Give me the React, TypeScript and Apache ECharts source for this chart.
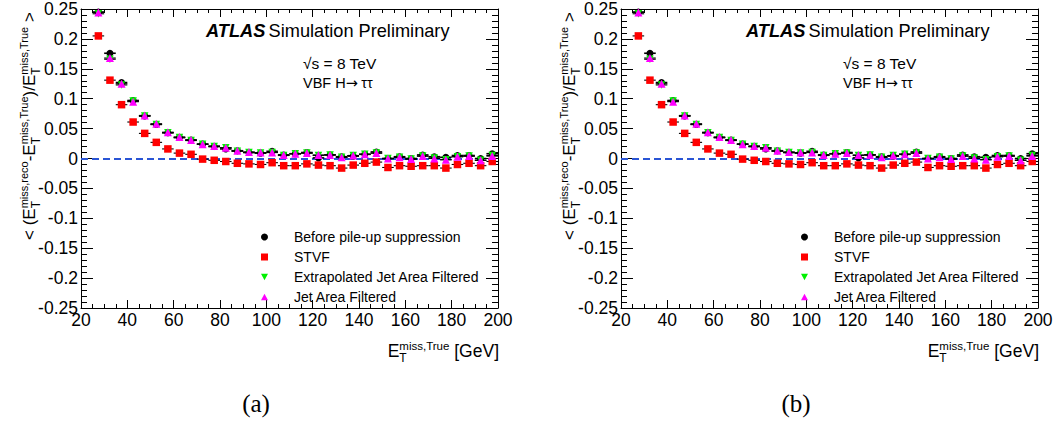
import React, { useEffect, useRef } from "react";
import * as echarts from "echarts";

// ---------- data ----------
const binCenters = [
  27.5, 32.5, 37.5, 42.5, 47.5, 52.5, 57.5, 62.5, 67.5, 72.5, 77.5, 82.5, 87.5, 92.5, 97.5,
  102.5, 107.5, 112.5, 117.5, 122.5, 127.5, 132.5, 137.5, 142.5, 147.5, 152.5, 157.5, 162.5,
  167.5, 172.5, 177.5, 182.5, 187.5, 192.5, 197.5,
];
const binHalfWidth = 2.5;

const beforeSuppression = [
  0.245, 0.176, 0.127, 0.097, 0.071, 0.057, 0.043, 0.035, 0.031, 0.024, 0.02, 0.016, 0.013, 0.01,
  0.009, 0.012, 0.006, 0.008, 0.01, 0.001, 0.006, 0.003, 0.004, 0.007, 0.011, 0.0, 0.003, 0.0,
  0.006, 0.003, 0.002, 0.005, 0.005, 0.0, 0.008,
];
const stvf = [
  0.205, 0.131, 0.09, 0.061, 0.042, 0.027, 0.016, 0.009, 0.007, -0.001, -0.003, -0.005, -0.008,
  -0.009, -0.01, -0.007, -0.012, -0.012, -0.009, -0.011, -0.012, -0.016, -0.011, -0.008, -0.006,
  -0.015, -0.012, -0.013, -0.012, -0.012, -0.016, -0.01, -0.008, -0.012, -0.005,
];
const extrapolatedJAF = [
  0.242, 0.166, 0.123, 0.096, 0.071, 0.057, 0.043, 0.035, 0.03, 0.024, 0.02, 0.018, 0.012, 0.01,
  0.009, 0.01, 0.005, 0.008, 0.009, 0.005, 0.006, 0.002, 0.005, 0.007, 0.009, 0.0, 0.002, -0.001,
  0.004, 0.001, -0.002, 0.003, 0.004, -0.003, 0.005,
];
const jetAreaFiltered = [
  0.244, 0.168, 0.125, 0.095, 0.072, 0.058, 0.044, 0.036, 0.031, 0.024, 0.021, 0.018, 0.013, 0.011,
  0.01, 0.01, 0.006, 0.008, 0.009, 0.006, 0.006, 0.002, 0.005, 0.007, 0.009, 0.0, 0.002, -0.001,
  0.004, 0.0, -0.002, 0.003, 0.004, -0.003, 0.004,
];

const seriesNames = [
  "Before pile-up suppression",
  "STVF",
  "Extrapolated Jet Area Filtered",
  "Jet Area Filtered",
];
const seriesValues = [beforeSuppression, stvf, extrapolatedJAF, jetAreaFiltered];
const panelCaptions = ["(a)", "(b)"];

const xMin = 20, xMax = 200, xInterval = 20;
const yMin = -0.25, yMax = 0.25, yInterval = 0.05;

// ---------- styling ----------
const FONT = '"Liberation Sans", Arial, Helvetica, sans-serif';
const colors = ["#000000", "#ff0000", "#00f000", "#ff00ff"];
const symbols = ["circle", "rect", "triangle", "triangle"];
const symbolRot = [0, 0, 180, 0];
const symbolSizes = [7, 7.5, 7.5, 8];
const legendIcons = ["circle", "rect", "path://M0,0L10,0L5,9Z", "path://M5,0L10,9L0,9Z"];

const PANEL_DX = 540;
const GRID = { left: 81, top: 9, width: 417, height: 299 };

let measureCtx: CanvasRenderingContext2D | null = null;
function measure(t: string, size: number): number {
  if (!measureCtx) measureCtx = document.createElement("canvas").getContext("2d");
  if (!measureCtx) return t.length * size * 0.55;
  measureCtx.font = `${size}px "Liberation Sans"`;
  return measureCtx.measureText(t).width;
}

function textEl(t: string, x: number, baseline: number, size: number) {
  return {
    type: "text",
    x,
    y: baseline - 0.35 * size,
    silent: true,
    style: {
      text: t,
      x: 0,
      y: 0,
      fill: "#000",
      fontSize: size,
      fontFamily: FONT,
      align: "left",
      verticalAlign: "middle",
    },
  };
}

type Seg = string | { sup: string; sub: string };
function physLabel(segs: Seg[], main: number, supS: number, subS: number, supDy: number, subDy: number) {
  const children: any[] = [];
  let x = 0;
  for (const s of segs) {
    if (typeof s === "string") {
      children.push(textEl(s, x, 0, main));
      x += measure(s, main);
    } else {
      children.push(textEl(s.sup, x, supDy, supS));
      children.push(textEl(s.sub, x, subDy, subS));
      x += Math.max(measure(s.sup, supS), measure(s.sub, subS));
    }
  }
  return { children, width: x };
}

function buildOption() {
  const xAxis: any[] = [];
  const yAxis: any[] = [];
  const grid: any[] = [];
  const series: any[] = [];
  const legend: any[] = [];
  const graphic: any[] = [];

  const tickLine = { color: "#000", width: 1 };
  for (let p = 0; p < 2; p++) {
    const dx = p * PANEL_DX;
    grid.push({ left: GRID.left + dx, top: GRID.top, width: GRID.width, height: GRID.height, show: false });

    const xCommon = {
      type: "value",
      gridIndex: p,
      min: xMin,
      max: xMax,
      interval: xInterval,
      axisLine: { show: true, onZero: false, lineStyle: tickLine },
      axisTick: { show: true, inside: true, length: 8, lineStyle: tickLine },
      minorTick: { show: true, splitNumber: 4, length: 4, lineStyle: tickLine },
      splitLine: { show: false },
      minorSplitLine: { show: false },
    };
    xAxis.push({
      ...xCommon,
      position: "bottom",
      axisLabel: { show: true, color: "#000", fontSize: 17.5, fontFamily: FONT, margin: 3, showMinLabel: true, showMaxLabel: true },
    });
    xAxis.push({ ...xCommon, position: "top", axisLabel: { show: false } });

    const yCommon = {
      type: "value",
      gridIndex: p,
      min: yMin,
      max: yMax,
      interval: yInterval,
      axisLine: { show: true, onZero: false, lineStyle: tickLine },
      axisTick: { show: true, inside: true, length: 12, lineStyle: tickLine },
      minorTick: { show: true, splitNumber: 5, length: 6, lineStyle: tickLine },
      splitLine: { show: false },
      minorSplitLine: { show: false },
    };
    yAxis.push({
      ...yCommon,
      position: "left",
      axisLabel: {
        show: true,
        color: "#000",
        fontSize: 17.5,
        fontFamily: FONT,
        margin: 3,
        formatter: (v: number) => String(Math.round(v * 100) / 100),
      },
    });
    yAxis.push({ ...yCommon, position: "right", axisLabel: { show: false } });

    seriesValues.forEach((vals, k) => {
      const data = binCenters.map((x, j) => [x, vals[j]]);
      series.push({
        type: "custom",
        xAxisIndex: 2 * p,
        yAxisIndex: 2 * p,
        silent: true,
        z: 2,
        data,
        renderItem: (_params: any, api: any) => {
          const x = api.value(0);
          const y = api.value(1);
          const a = api.coord([x - binHalfWidth, y]);
          const b = api.coord([x + binHalfWidth, y]);
          return {
            type: "line",
            shape: { x1: a[0], y1: a[1], x2: b[0], y2: b[1] },
            style: { stroke: "#000", lineWidth: k === 0 ? 1.6 : 1.1 },
          };
        },
      });
      const s: any = {
        type: "scatter",
        name: seriesNames[k],
        xAxisIndex: 2 * p,
        yAxisIndex: 2 * p,
        data,
        symbol: symbols[k],
        symbolSize: symbolSizes[k],
        symbolRotate: symbolRot[k],
        itemStyle: { color: colors[k], opacity: 1 },
        silent: true,
        z: 3,
      };
      if (k === 0) {
        s.markLine = {
          silent: true,
          symbol: ["none", "none"],
          label: { show: false },
          lineStyle: { color: "#2a55d5", type: [7, 4], width: 2 },
          data: [{ yAxis: 0 }],
          z: 1,
        };
      }
      series.push(s);
    });

    legend.push({
      orient: "vertical",
      left: 261 + dx,
      top: 230,
      padding: 0,
      itemWidth: 7,
      itemHeight: 7,
      itemGap: 6,
      selectedMode: false,
      data: seriesNames.map((n, k) => ({ name: n, icon: legendIcons[k], itemStyle: { color: colors[k] } })),
      textStyle: { color: "#000", fontSize: 14, fontFamily: FONT, padding: [0, 0, 0, 21], lineHeight: 14 },
    });

    // ATLAS label
    graphic.push({
      type: "text",
      x: 206 + dx,
      y: 30.5,
      silent: true,
      style: {
        text: "{a|ATLAS} {b|Simulation Preliminary}",
        verticalAlign: "middle",
        align: "left",
        rich: {
          a: { fontSize: 18.2, fontFamily: FONT, fontWeight: "bold", fontStyle: "italic", fill: "#000" },
          b: { fontSize: 18.2, fontFamily: FONT, fill: "#000" },
        },
      },
    });
    graphic.push({
      type: "text",
      x: 303 + dx,
      y: 63,
      silent: true,
      style: { text: "\u221As = 8 TeV", fontSize: 15.5, fontFamily: FONT, fill: "#000", verticalAlign: "middle" },
    });
    graphic.push({
      type: "text",
      x: 303 + dx,
      y: 83,
      silent: true,
      style: {
        text: "{a|VBF H}{b|\u2192} {a|\u03C4\u03C4}",
        verticalAlign: "middle",
        rich: {
          a: { fontSize: 14.5, fontFamily: FONT, fill: "#000" },
          b: { fontSize: 14.5, fontFamily: '"DejaVu Sans", sans-serif', fill: "#000" },
        },
      },
    });

    // x axis title
    const xt = physLabel(["E", { sup: "miss,True", sub: "T" }, " [GeV]"], 17.5, 11.5, 12, -6.5, 5);
    graphic.push({ type: "group", x: 499 + dx - xt.width, y: 357, children: xt.children });

    // y axis title (rotated)
    const yt = physLabel(
      [
        "< (E",
        { sup: "miss,reco", sub: "T" },
        "-E",
        { sup: "miss,True", sub: "T" },
        ")/E",
        { sup: "miss,True", sub: "T" },
        " >",
      ],
      17,
      11,
      12,
      -7,
      5
    );
    graphic.push({
      type: "group",
      x: 35 + dx,
      y: 240,
      rotation: Math.PI / 2,
      children: yt.children,
    });

    graphic.push({
      type: "text",
      x: 256 + dx,
      y: 403,
      silent: true,
      style: {
        text: panelCaptions[p],
        fontSize: 25,
        fontFamily: '"Liberation Serif", "Times New Roman", serif',
        fill: "#000",
        align: "center",
        verticalAlign: "middle",
      },
    });
  }

  return {
    animation: false,
    backgroundColor: "#ffffff",
    grid,
    xAxis,
    yAxis,
    legend,
    series,
    graphic,
  };
}

export default function App() {
  const ref = useRef<HTMLDivElement>(null);
  useEffect(() => {
    if (!ref.current) return;
    const chart = echarts.init(ref.current, undefined, { renderer: "svg" });
    chart.setOption(buildOption() as any);
    return () => chart.dispose();
  }, []);
  return (
    <div
      ref={ref}
      style={{ position: "absolute", left: 0, top: 0, width: 1058, height: 423, background: "#fff" }}
    />
  );
}
